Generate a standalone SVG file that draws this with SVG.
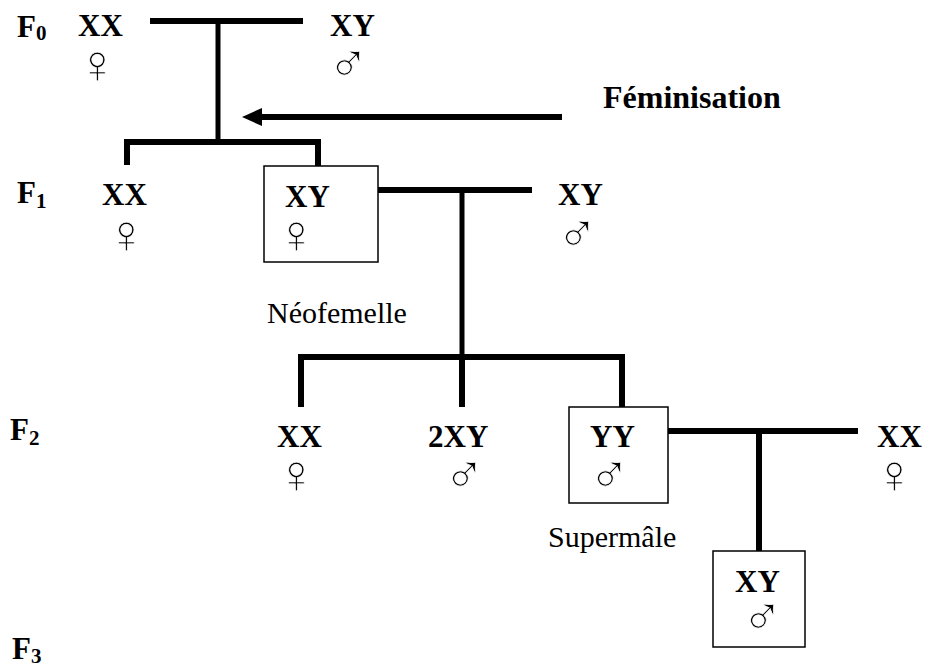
<svg xmlns="http://www.w3.org/2000/svg" width="928" height="668" viewBox="0 0 928 668">
<style>
.g{font-family:"Liberation Serif","Times New Roman",serif;font-weight:bold;font-size:31px;fill:#000}
.lab{font-family:"Liberation Serif","Times New Roman",serif;font-size:30px;fill:#000}
.sym{font-family:"Liberation Serif","DejaVu Serif",serif;font-size:55px;fill:#000;text-anchor:middle;stroke:#fff;stroke-width:0.7px}
.sub{font-size:21px}
.box{fill:none;stroke:#000;stroke-width:1.5}
.ln{fill:none;stroke:#000;stroke-width:6;stroke-linecap:butt}
.vl{fill:none;stroke:#000;stroke-width:5}
</style>
<g id="gen-labels" class="g">
<text x="17" y="37">F<tspan class="sub" dy="3">0</tspan></text>
<text x="17" y="203">F<tspan class="sub" dy="5">1</tspan></text>
<text x="10" y="440">F<tspan class="sub" dy="5">2</tspan></text>
<text x="12" y="659">F<tspan class="sub" dy="4">3</tspan></text>
</g>
<g id="connectors">
<line class="ln" x1="150" y1="21" x2="303" y2="21"/>
<line class="vl" x1="218" y1="21" x2="218" y2="142"/>
<path class="ln" d="M127,165 V142 H318 V166"/>
<line class="ln" x1="378" y1="190" x2="532" y2="190"/>
<line class="vl" x1="462" y1="190" x2="462" y2="357"/>
<path class="ln" d="M301,407 V357 H622 V407"/>
<line class="ln" x1="462" y1="357" x2="462" y2="407"/>
<line class="ln" x1="668" y1="431" x2="858" y2="431"/>
<line class="ln" x1="759" y1="431" x2="759" y2="551"/>
<line class="ln" x1="562" y1="117" x2="262" y2="117"/>
<path d="M242,117 L262,108 L262,126 z" fill="#000"/>
</g>
<g id="feminisation"><text class="g" x="603" y="108" style="font-size:32px">Féminisation</text></g>
<g id="f0-xx"><text class="g" x="78" y="36">XX</text><text class="sym" x="97" y="83">♀</text></g>
<g id="f0-xy"><text class="g" x="330" y="36">XY</text><text class="sym" x="348" y="82">♂</text></g>
<g id="f1-xx"><text class="g" x="102" y="205">XX</text><text class="sym" x="126" y="253">♀</text></g>
<g id="f1-neofemelle"><rect class="box" x="264" y="166" width="114" height="96"/><text class="g" x="285" y="207">XY</text><text class="sym" x="296" y="253">♀</text></g>
<g id="f1-xy"><text class="g" x="558" y="205">XY</text><text class="sym" x="577" y="252">♂</text></g>
<g id="neofemelle-label"><text class="lab" x="267" y="323">Néofemelle</text></g>
<g id="f2-xx"><text class="g" x="277" y="447">XX</text><text class="sym" x="296" y="493">♀</text></g>
<g id="f2-2xy"><text class="g" x="428" y="447">2XY</text><text class="sym" x="464" y="493">♂</text></g>
<g id="f2-yy"><rect class="box" x="569" y="407" width="99" height="96"/><text class="g" x="590" y="447">YY</text><text class="sym" x="609" y="493">♂</text></g>
<g id="f2-xx-right"><text class="g" x="877" y="447">XX</text><text class="sym" x="894" y="493">♀</text></g>
<g id="supermale-label"><text class="lab" x="548" y="547">Supermâle</text></g>
<g id="f3-xy"><rect class="box" x="713" y="551" width="92" height="96"/><text class="g" x="735" y="592">XY</text><text class="sym" x="762" y="635">♂</text></g>
</svg>
